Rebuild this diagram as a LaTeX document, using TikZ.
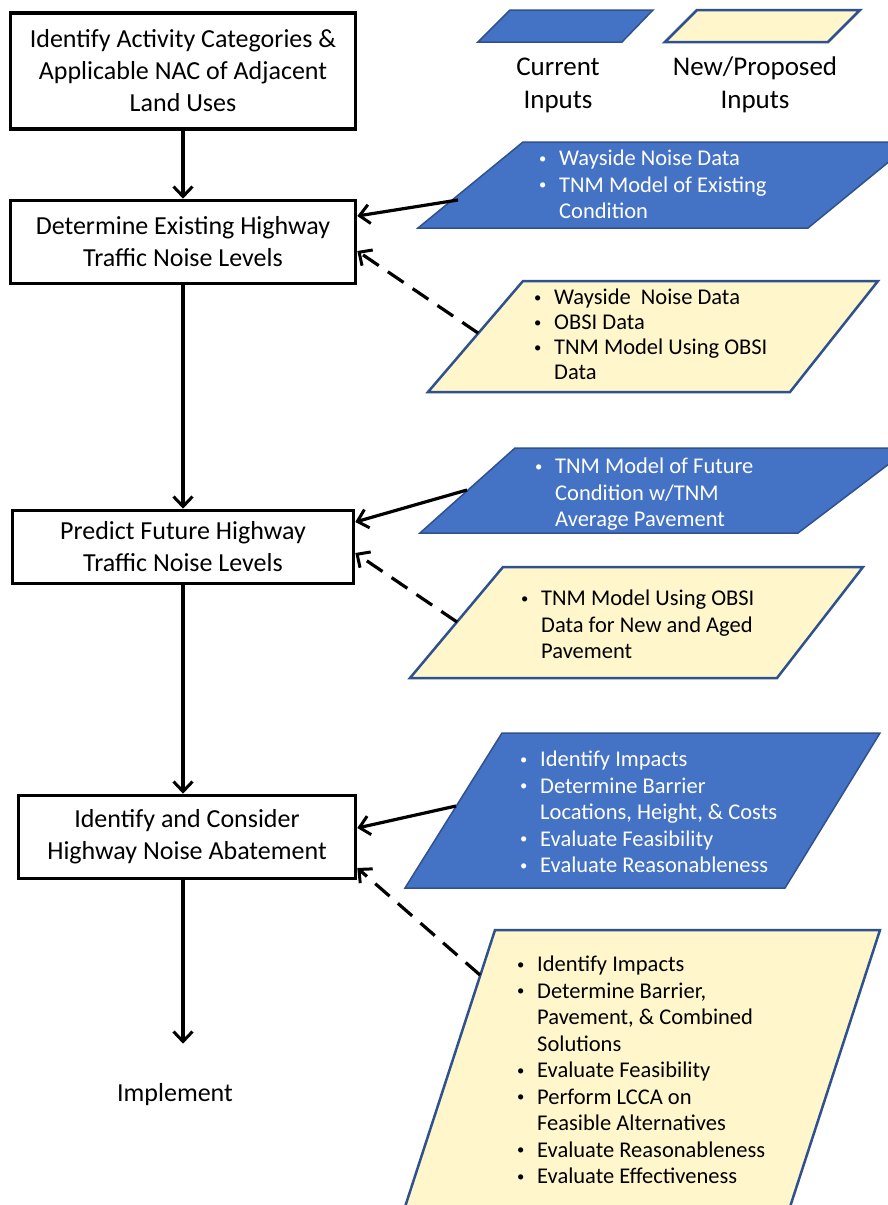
\documentclass[tikz,border=0pt]{standalone}
\usepackage{fontspec}
\setmainfont{Carlito}
\usetikzlibrary{arrows.meta}
\definecolor{cblue}{RGB}{68,114,196}
\definecolor{cedge}{RGB}{47,82,143}
\definecolor{cyel}{RGB}{255,246,204}
\tikzset{
  stepbox/.style={draw, line width=3.6pt, align=center, inner sep=0pt,
    font=\fontsize{26}{32}\selectfont},
  flow/.style={line width=3.2pt, -{Straight Barb[length=10pt,width=19pt,line width=3pt]}},
  dflow/.style={flow, dash pattern=on 19pt off 11pt},
  curin/.style={fill=cblue, draw=cedge, line width=1.5pt},
  newin/.style={fill=cyel, draw=cedge, line width=2.5pt},
  wlist/.style={anchor=north west, align=left, inner sep=0pt, text=white,
    font=\fontsize{22.5}{26.5}\selectfont},
  blist/.style={wlist, text=black},
  legtext/.style={align=center, inner sep=0pt, font=\fontsize{27}{33}\selectfont},
}
\newcommand{\bul}{\makebox[22pt][l]{\hspace*{2pt}\raisebox{0.12em}{\scalebox{0.65}{\textbullet}}}}
\newcommand{\ind}{\hspace*{22pt}}
\begin{document}
\begin{tikzpicture}[x=1pt,y=-1pt]
\useasboundingbox (0,0) rectangle (888,1205);
\fill[white] (0,0) rectangle (888,1205);
\clip (0,0) rectangle (888,1205);

% legend
\path[curin] (478,42) -- (510,10) -- (653,10) -- (622,42) -- cycle;
\path[newin] (665,42) -- (697,10) -- (860,10) -- (828,42) -- cycle;
\node[legtext] (lc) at (558,85) {Current\\Inputs};
\node[legtext] (ln) at (755,85) {New/Proposed\\Inputs};

% input shapes
\path[curin] (418,228) -- (523,142) -- (913,142) -- (808,228) -- cycle;
\path[newin] (428,392) -- (523,281) -- (878,281) -- (790,392) -- cycle;
\path[curin] (420,533) -- (515,448) -- (910,448) -- (798,533) -- cycle;
\path[newin] (410,678) -- (503,567) -- (863,567) -- (777,678) -- cycle;
\path[curin] (405,888) -- (502,733) -- (880,733) -- (785,888) -- cycle;
\path[newin] (404,1210) -- (495,930) -- (880,930) -- (789,1210) -- cycle;

\node[wlist] (t1) at (537,150) {\bul Wayside Noise Data\\\bul TNM Model of Existing\\\ind Condition};
\node[blist, font=\fontsize{22.5}{25}\selectfont] (t2) at (532,289) {\bul Wayside~ Noise Data\\\bul OBSI Data\\\bul TNM Model Using OBSI\\\ind Data};
\node[wlist] (t3) at (533,458) {\bul TNM Model of Future\\\ind Condition w/TNM\\\ind Average Pavement};
\node[blist] (t4) at (519,590) {\bul TNM Model Using OBSI\\\ind Data for New and Aged\\\ind Pavement};
\node[wlist] (t5) at (518,751) {\bul Identify Impacts\\\bul Determine Barrier\\\ind Locations, Height, \& Costs\\\bul Evaluate Feasibility\\\bul Evaluate Reasonableness};
\node[blist] (t6) at (515,956) {\bul Identify Impacts\\\bul Determine Barrier,\\\ind Pavement, \& Combined\\\ind Solutions\\\bul Evaluate Feasibility\\\bul Perform LCCA on\\\ind Feasible Alternatives\\\bul Evaluate Reasonableness\\\bul Evaluate Effectiveness};

% process boxes
\node[stepbox, minimum width=345pt, minimum height=116pt] (b1) at (183,71)
  {Identify Activity Categories \&\\Applicable NAC of Adjacent\\Land Uses};
\node[stepbox, minimum width=345pt, minimum height=83pt] (b2) at (183,242)
  {Determine Existing Highway\\Traffic Noise Levels};
\node[stepbox, minimum width=341pt, minimum height=73pt] (b3) at (183,547)
  {Predict Future Highway\\Traffic Noise Levels};
\node[stepbox, minimum width=337pt, minimum height=83pt] (b4) at (187,837)
  {Identify and Consider\\Highway Noise Abatement};
\node[inner sep=0pt, font=\fontsize{26}{32}\selectfont] (impl) at (175,1095) {Implement};

% connector start points on the input shapes
\coordinate (s1) at (458,200);
\coordinate (s2) at (478,333);
\coordinate (s3) at (467,490);
\coordinate (s4) at (457,622);
\coordinate (s5) at (456,806);
\coordinate (s6) at (480,975);

% main flow
\draw[flow] (b1.south) -- (b2.north);
\draw[flow] (b2.south) -- (b3.north);
\draw[flow] (b3.south) -- (b3.south |- b4.north);
\draw[flow] (b3.south |- b4.south) -- ([yshift=40pt]impl.north -| b3.south);

% inputs
\draw[flow] (s1) -- ([yshift=26pt]b2.east);
\draw[dflow] (s2) -- ([yshift=-9pt]b2.east);
\draw[flow] (s3) -- ([yshift=25pt]b3.east);
\draw[dflow] (s4) -- ([yshift=-6pt]b3.east);
\draw[flow] (s5) -- ([yshift=9pt]b4.east);
\draw[dflow] (s6) -- ([yshift=-31pt]b4.east);
\end{tikzpicture}
\end{document}
